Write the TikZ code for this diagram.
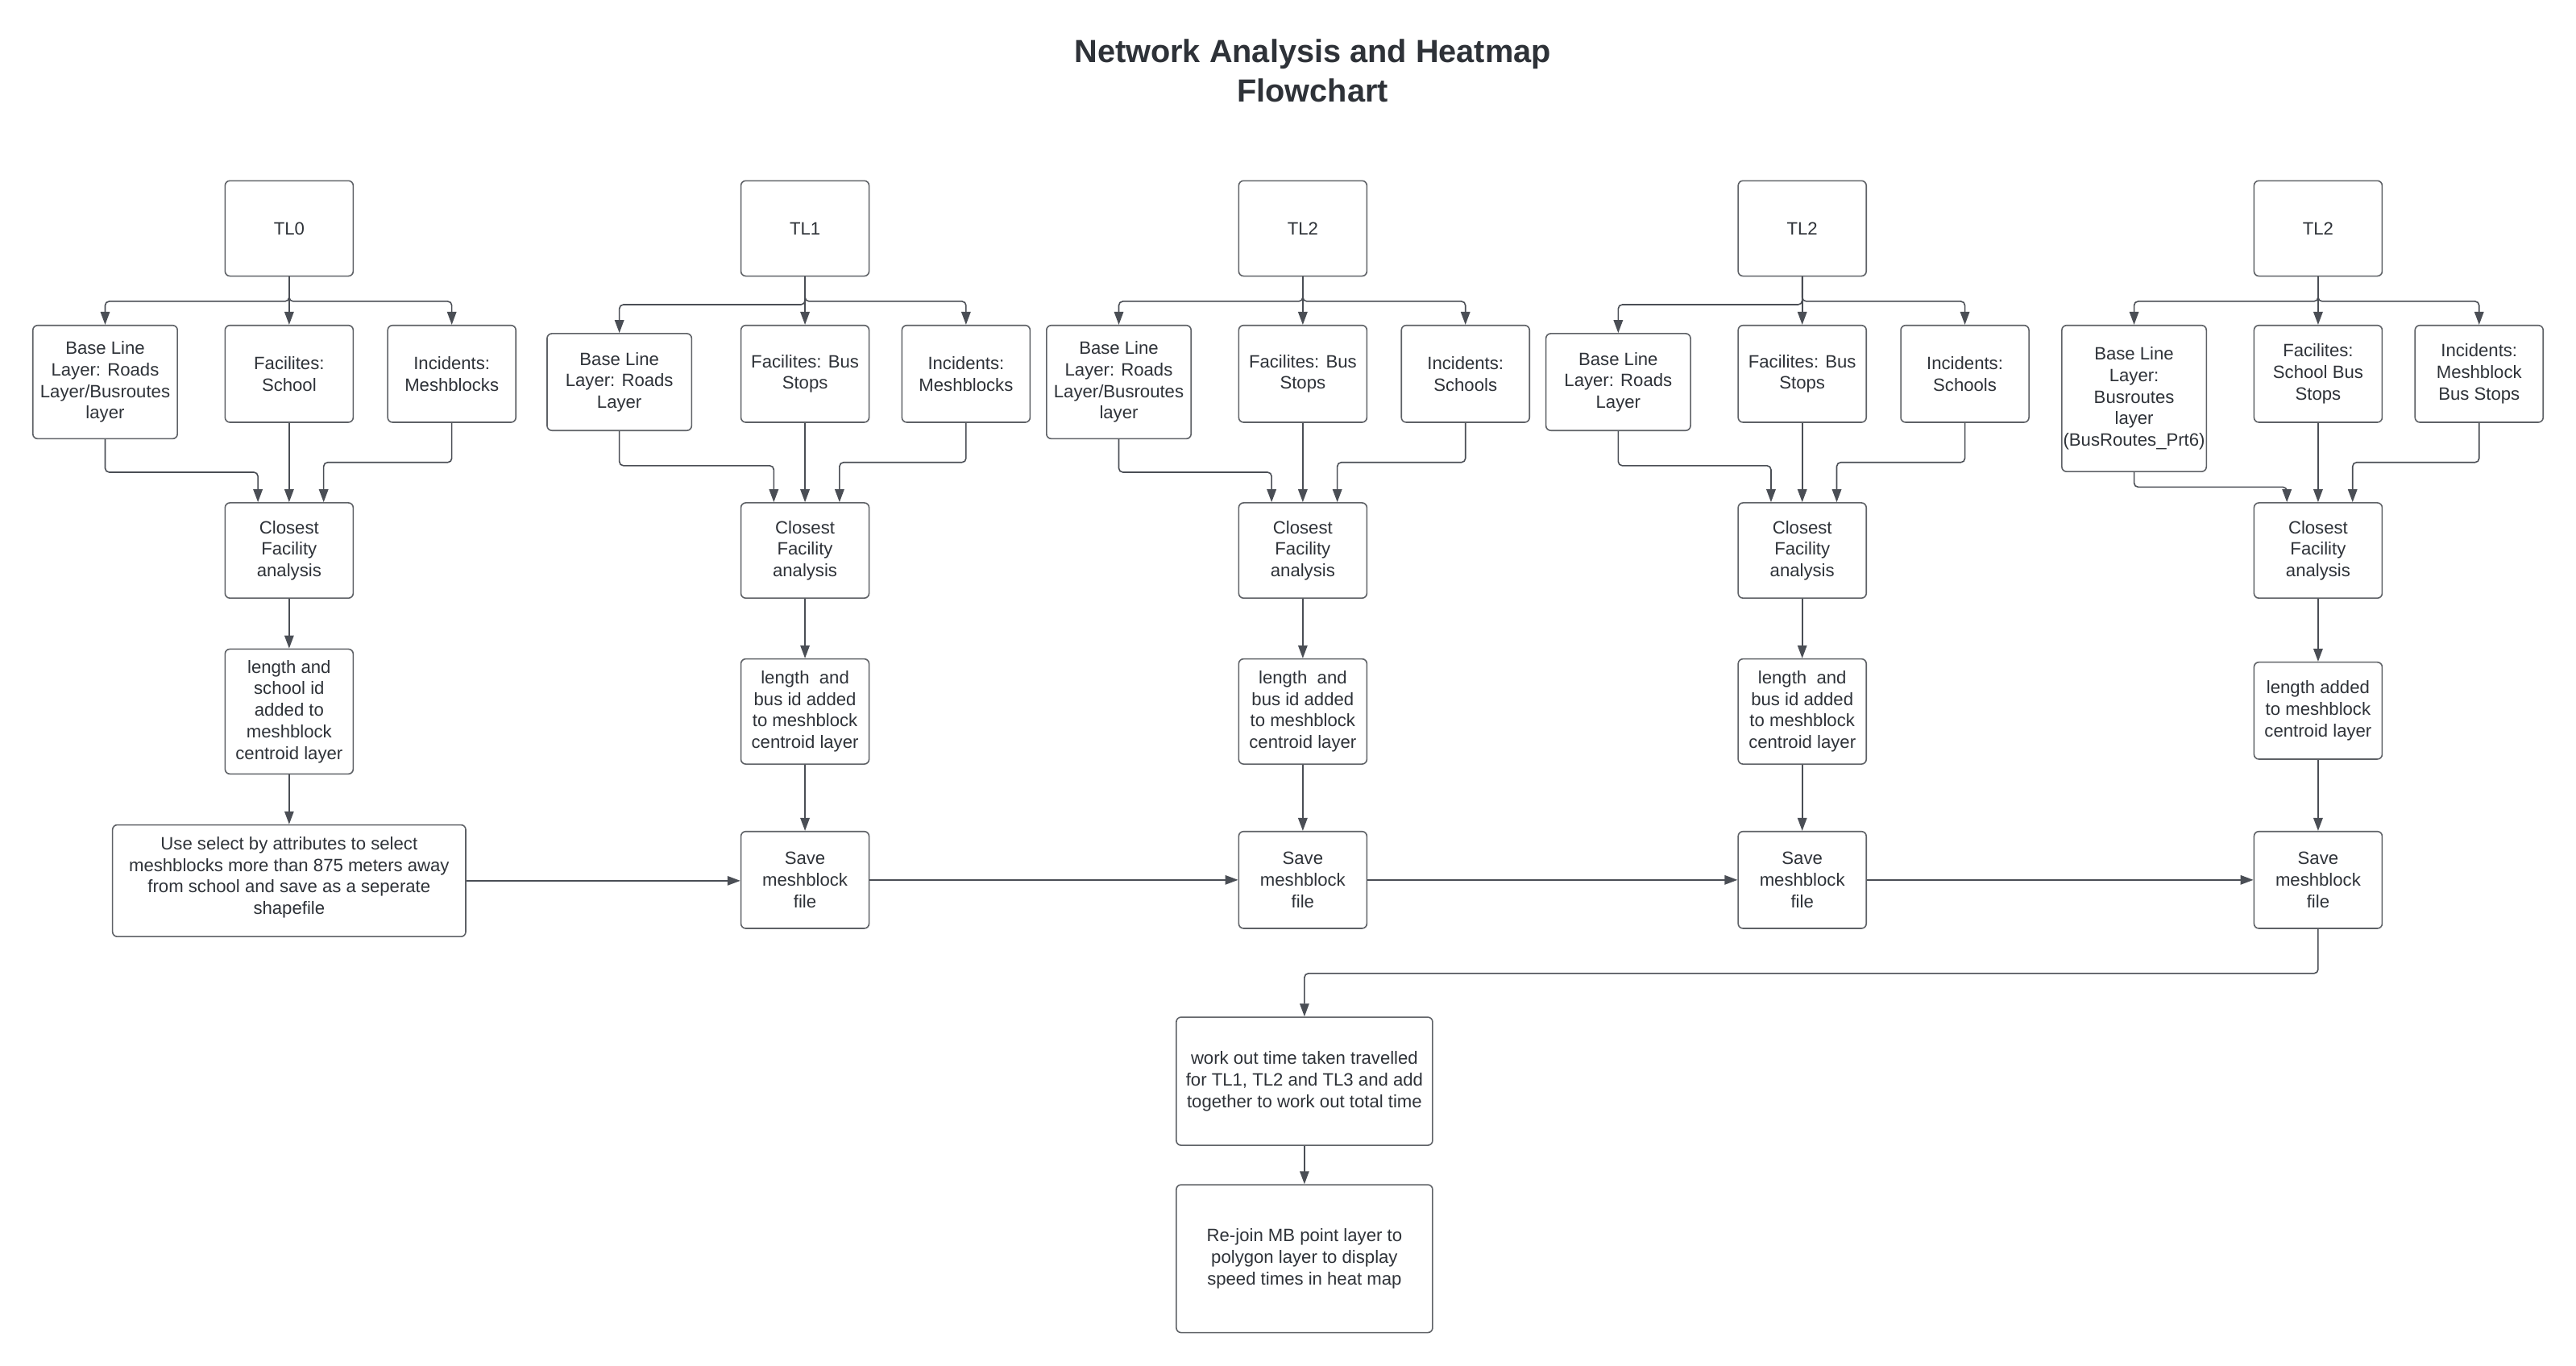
\documentclass[tikz,border=0pt]{standalone}
\usepackage{fontspec}
\setmainfont{Liberation Sans}
\usetikzlibrary{arrows.meta,calc}
\definecolor{txt}{HTML}{2E3238}
\definecolor{ln}{HTML}{4A4E55}
\definecolor{bd}{HTML}{5E6166}
\begin{document}
\begin{tikzpicture}[x=0.2039mm,y=-0.2039mm,
  box/.style 2 args={draw=bd, line width=0.45pt, rounded corners=0.6mm,
    minimum width=#1*0.2039mm, minimum height=#2*0.2039mm, inner sep=0pt,
    align=center, text=txt, font=\fontsize{6.3}{7.6}\selectfont},
  arr/.style={draw=ln, line width=0.45pt, rounded corners=0.5mm,
    -{Triangle[length=1.6mm,width=1.15mm]}},
  ttl/.style={text=txt, align=center, font=\bfseries\fontsize{11.3}{13.9}\selectfont}
]
\useasboundingbox[fill=white] (0,0) rectangle (1568,831);

\node[ttl] (title) at (799,43) {Network Analysis and Heatmap\\Flowchart};

% column 0
\node[box={78}{58}] (t0) at (176,139) {TL0};
\node[box={88}{69}] (b0) at (64,232.5) {Base Line\\Layer: Roads\\Layer/Busroutes\\layer};
\node[box={78}{59}] (f0) at (176,227.5) {Facilites:\\School};
\node[box={78}{59}] (i0) at (275,227.5) {Incidents:\\Meshblocks};
\node[box={78}{58}] (c0) at (176,335) {Closest\\Facility\\analysis};
\node[box={78}{76}] (l0) at (176,433) {length and\\school id\\added to\\meshblock\\centroid layer};
\node[box={215}{68}] (u0) at (176,536) {Use select by attributes to select\\meshblocks more than 875 meters away\\from school and save as a seperate\\shapefile\\[-4pt]\mbox{}};

% column 1
\node[box={78}{58}] (t1) at (490,139) {TL1};
\node[box={88}{59}] (b1) at (377,232.5) {Base Line\\Layer: Roads\\Layer};
\node[box={78}{59}] (f1) at (490,227.5) {Facilites: Bus\\Stops};
\node[box={78}{59}] (i1) at (588,227.5) {Incidents:\\Meshblocks};
\node[box={78}{58}] (c1) at (490,335) {Closest\\Facility\\analysis};
\node[box={78}{64}] (l1) at (490,433) {length~ and\\bus id added\\to meshblock\\centroid layer};
\node[box={78}{59}] (s1) at (490,535.5) {Save\\meshblock\\file};

% column 2
\node[box={78}{58}] (t2) at (793,139) {TL2};
\node[box={88}{69}] (b2) at (681,232.5) {Base Line\\Layer: Roads\\Layer/Busroutes\\layer};
\node[box={78}{59}] (f2) at (793,227.5) {Facilites: Bus\\Stops};
\node[box={78}{59}] (i2) at (892,227.5) {Incidents:\\Schools};
\node[box={78}{58}] (c2) at (793,335) {Closest\\Facility\\analysis};
\node[box={78}{64}] (l2) at (793,433) {length~ and\\bus id added\\to meshblock\\centroid layer};
\node[box={78}{59}] (s2) at (793,535.5) {Save\\meshblock\\file};

% column 3
\node[box={78}{58}] (t3) at (1097,139) {TL2};
\node[box={88}{59}] (b3) at (985,232.5) {Base Line\\Layer: Roads\\Layer};
\node[box={78}{59}] (f3) at (1097,227.5) {Facilites: Bus\\Stops};
\node[box={78}{59}] (i3) at (1196,227.5) {Incidents:\\Schools};
\node[box={78}{58}] (c3) at (1097,335) {Closest\\Facility\\analysis};
\node[box={78}{64}] (l3) at (1097,433) {length~ and\\bus id added\\to meshblock\\centroid layer};
\node[box={78}{59}] (s3) at (1097,535.5) {Save\\meshblock\\file};

% column 4
\node[box={78}{58}] (t4) at (1411,139) {TL2};
\node[box={88}{89}] (b4) at (1299,242.5) {Base Line\\Layer:\\Busroutes\\layer\\(BusRoutes\_Prt6)};
\node[box={78}{59}] (f4) at (1411,227.5) {Facilites:\\School Bus\\Stops};
\node[box={78}{59}] (i4) at (1509,227.5) {Incidents:\\Meshblock\\Bus Stops};
\node[box={78}{58}] (c4) at (1411,335) {Closest\\Facility\\analysis};
\node[box={78}{59}] (l4) at (1411,432.5) {length added\\to meshblock\\centroid layer};
\node[box={78}{59}] (s4) at (1411,535.5) {Save\\meshblock\\file};

% bottom
\node[box={156}{78}] (work) at (794,658) {work out time taken travelled\\for TL1, TL2 and TL3 and add\\together to work out total time};
\node[box={156}{90}] (rej) at (794,766) {Re-join MB point layer to\\polygon layer to display\\speed times in heat map};

% branches
\foreach \k/\dl in {0/15,1/17,2/15,3/17,4/15}{
  \draw[arr] (t\k.south) -- (f\k.north);
  \draw[arr] (t\k.south) -- ++(0,\dl) -| (b\k.north);
  \draw[arr] (t\k.south) -- ++(0,15) -| (i\k.north);
}
% merges
\foreach \k/\db in {0/20,1/21,2/20,3/21,4/9}{
  \draw[arr] (f\k.south) -- (c\k.north);
  \draw[arr] (b\k.south) -- ++(0,\db) -| ($(c\k.north)+(-19,0)$);
  \draw[arr] (i\k.south) -- ++(0,24) -| ($(c\k.north)+(21,0)$);
}
\draw[arr] (c0.south) -- (l0.north);
\draw[arr] (l0.south) -- (u0.north);
\foreach \k in {1,2,3,4}{
  \draw[arr] (c\k.south) -- (l\k.north);
  \draw[arr] (l\k.south) -- (s\k.north);
}
\draw[arr] (u0.east) -- (u0.east -| s1.west);
\draw[arr] (s1.east) -- (s2.west);
\draw[arr] (s2.east) -- (s3.west);
\draw[arr] (s3.east) -- (s4.west);
\draw[arr] (s4.south) -- ++(0,27) -| (work.north);
\draw[arr] (work.south) -- (rej.north);
\end{tikzpicture}
\end{document}
